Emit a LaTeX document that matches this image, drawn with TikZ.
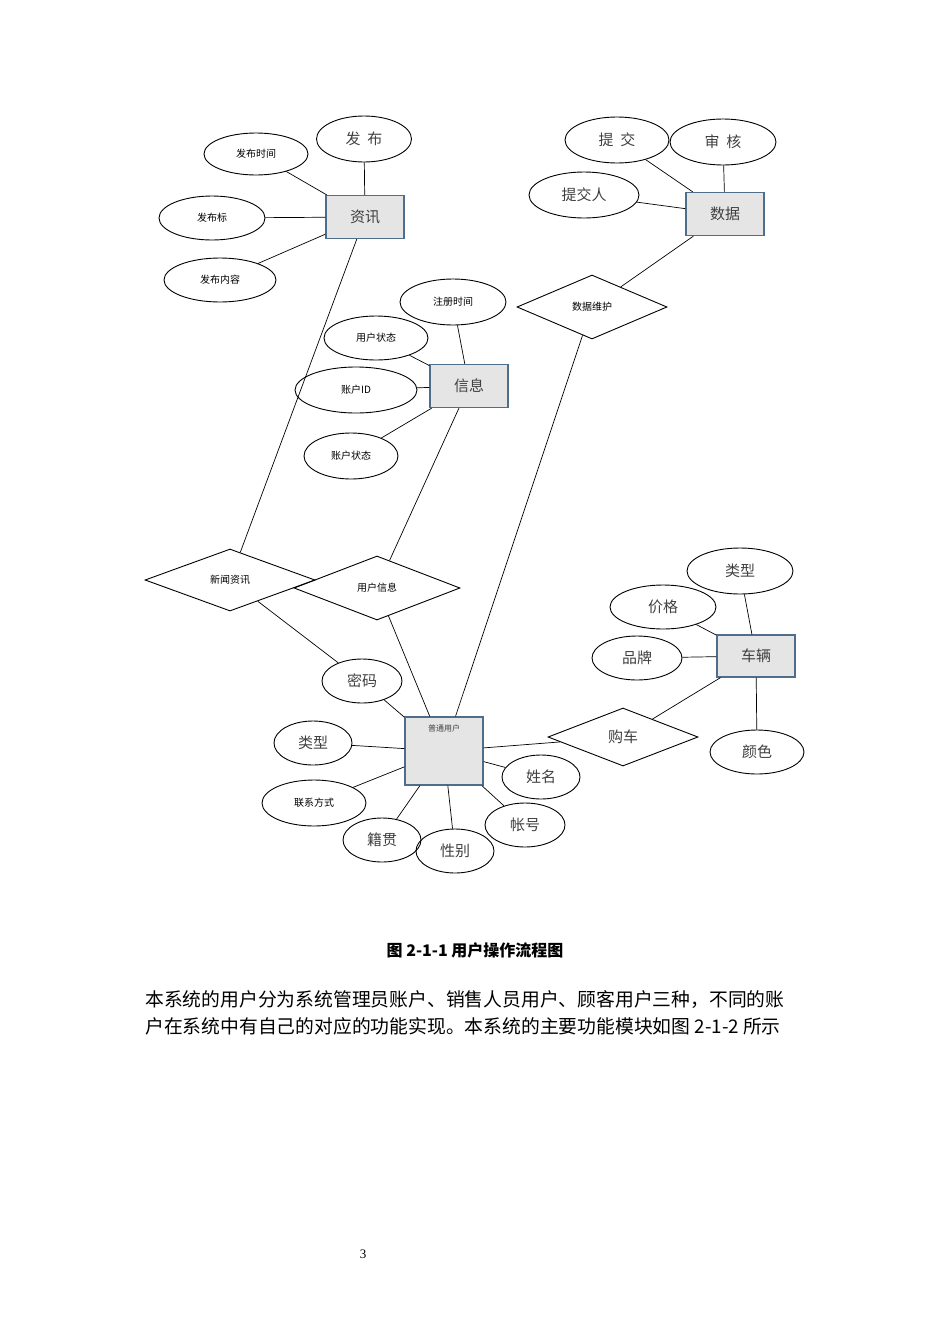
\documentclass[tikz,border=0pt]{standalone}
\usepackage{fontspec}
\setmainfont{Liberation Serif}
\newfontfamily\cjk{Noto Sans CJK SC}
\usetikzlibrary{shapes.geometric}
\definecolor{entityline}{RGB}{79,110,140}
\tikzset{
  attr/.style={draw,ellipse,line width=0.9pt,inner sep=0pt,font=\cjk\fontsize{10}{12}\selectfont},
  bigattr/.style={attr,font=\cjk\fontsize{15}{18}\selectfont,text=black!75},
  entity/.style={draw=entityline,line width=1.3pt,fill=gray!20,inner sep=0pt,minimum width=78pt,minimum height=43pt,font=\cjk\fontsize{15}{18}\selectfont,text=black!75},
  relation/.style={draw,diamond,line width=0.9pt,inner sep=0pt,font=\cjk\fontsize{10}{12}\selectfont},
  link/.style={line width=0.7pt}
}
\begin{document}
\begin{tikzpicture}[x=1pt,y=-1pt]
        \useasboundingbox (0,0) rectangle (950,1344);
        % news
        \node[entity] (zixun) at (365,217) {资讯};
        \node[bigattr,minimum width=95pt,minimum height=46pt] (fabu) at (364,139) {发\ \ 布};
        \node[attr,minimum width=104pt,minimum height=42pt] (fbsj) at (256,154) {发布时间};
        \node[attr,minimum width=106pt,minimum height=44pt] (fbb) at (212,218) {发布标};
        \node[attr,minimum width=112pt,minimum height=44pt] (fbnr) at (220,280) {发布内容};
        \draw[link] (fabu) -- (zixun);
        \draw[link] (fbsj) -- (zixun);
        \draw[link] (fbb) -- (zixun);
        \draw[link] (fbnr) -- (zixun);
        % data
        \node[entity] (shuju) at (725,214) {数据};
        \node[bigattr,minimum width=104pt,minimum height=46pt] (tijiao) at (617,140) {提\ \ 交};
        \node[bigattr,minimum width=106pt,minimum height=46pt] (shenhe) at (723,142) {审\ \ 核};
        \node[bigattr,minimum width=110pt,minimum height=46pt] (tjr) at (584,195) {提交人};
        \draw[link] (tijiao) -- (shuju);
        \draw[link] (shenhe) -- (shuju);
        \draw[link] (tjr) -- (shuju);
        \node[relation,minimum width=150pt,minimum height=64pt] (sjwh) at (592,307) {数据维护};
        \draw[link] (shuju) -- (sjwh);
        % info
        \node[entity] (xinxi) at (469,386) {信息};
        \node[attr,minimum width=106pt,minimum height=46pt] (zcsj) at (453,302) {注册时间};
        \node[attr,minimum width=104pt,minimum height=44pt] (yhzt) at (376,338) {用户状态};
        \node[attr,minimum width=122pt,minimum height=46pt] (zhid) at (356,390) {账户ID};
        \node[attr,minimum width=94pt,minimum height=46pt] (zhzt) at (351,456) {账户状态};
        \draw[link] (zcsj) -- (xinxi);
        \draw[link] (yhzt) -- (xinxi);
        \draw[link] (zhid) -- (xinxi);
        \draw[link] (zhzt) -- (xinxi);
        % relations to user
        \node[relation,minimum width=170pt,minimum height=62pt] (xwzx) at (230,580) {新闻资讯};
        \node[relation,minimum width=166pt,minimum height=64pt] (yhxx) at (377,588) {用户信息};
        \draw[link] (zixun) -- (xwzx);
        \draw[link] (xinxi) -- (yhxx);
        \node[entity,minimum height=68pt,text depth=45pt,font=\cjk\fontsize{8}{10}\selectfont] (user) at (444,751) {普通用户};
        \node[bigattr,minimum width=80pt,minimum height=44pt] (mima) at (362,681) {密码};
        \node[bigattr,minimum width=78pt,minimum height=44pt] (leixing) at (313,743) {类型};
        \node[attr,minimum width=104pt,minimum height=46pt] (lxfs) at (314,803) {联系方式};
        \node[bigattr,minimum width=78pt,minimum height=44pt] (jiguan) at (382,840) {籍贯};
        \node[bigattr,minimum width=78pt,minimum height=44pt] (xingbie) at (455,851) {性别};
        \node[bigattr,minimum width=80pt,minimum height=44pt] (zhanghao) at (525,825) {帐号};
        \node[bigattr,minimum width=78pt,minimum height=44pt] (xingming) at (541,777) {姓名};
        \draw[link] (xwzx) -- (mima);
        \draw[link] (mima) -- (user);
        \draw[link] (yhxx) -- (user);
        \draw[link] (sjwh) -- (user);
        \draw[link] (leixing) -- (user);
        \draw[link] (lxfs) -- (user);
        \draw[link] (jiguan) -- (user);
        \draw[link] (xingbie) -- (user);
        \draw[link] (zhanghao) -- (user);
        \draw[link] (xingming) -- (user);
        % car
        \node[relation,minimum width=150pt,minimum height=58pt,font=\cjk\fontsize{15}{18}\selectfont,text=black!75] (gouche) at (623,737) {购车};
        \node[entity,minimum height=42pt] (cheliang) at (756,656) {车辆};
        \node[bigattr,minimum width=106pt,minimum height=46pt] (lx2) at (740,571) {类型};
        \node[bigattr,minimum width=106pt,minimum height=44pt] (jiage) at (663,607) {价格};
        \node[bigattr,minimum width=90pt,minimum height=44pt] (pinpai) at (637,658) {品牌};
        \node[bigattr,minimum width=94pt,minimum height=44pt] (yanse) at (757,752) {颜色};
        \draw[link] (user) -- (gouche);
        \draw[link] (gouche) -- (cheliang);
        \draw[link] (lx2) -- (cheliang);
        \draw[link] (jiage) -- (cheliang);
        \draw[link] (pinpai) -- (cheliang);
        \draw[link] (yanse) -- (cheliang);
        % caption and text
        \node[font=\cjk\bfseries\fontsize{16}{18}\selectfont] (caption) at (475,950) {图 2-1-1 用户操作流程图};
        \node[anchor=west,font=\cjk\fontsize{18.8}{22}\selectfont,inner sep=0pt] (line1) at (145,1000) {本系统的用户分为系统管理员账户、销售人员用户、顾客用户三种，不同的账};
        \node[anchor=west,font=\cjk\fontsize{18.8}{22}\selectfont,inner sep=0pt] (line2) at (145,1026) {户在系统中有自己的对应的功能实现。本系统的主要功能模块如图 2-1-2 所示};
        \node[font=\fontsize{13}{15}\selectfont] (pageno) at (363,1254) {3};
      \end{tikzpicture}
\end{document}
